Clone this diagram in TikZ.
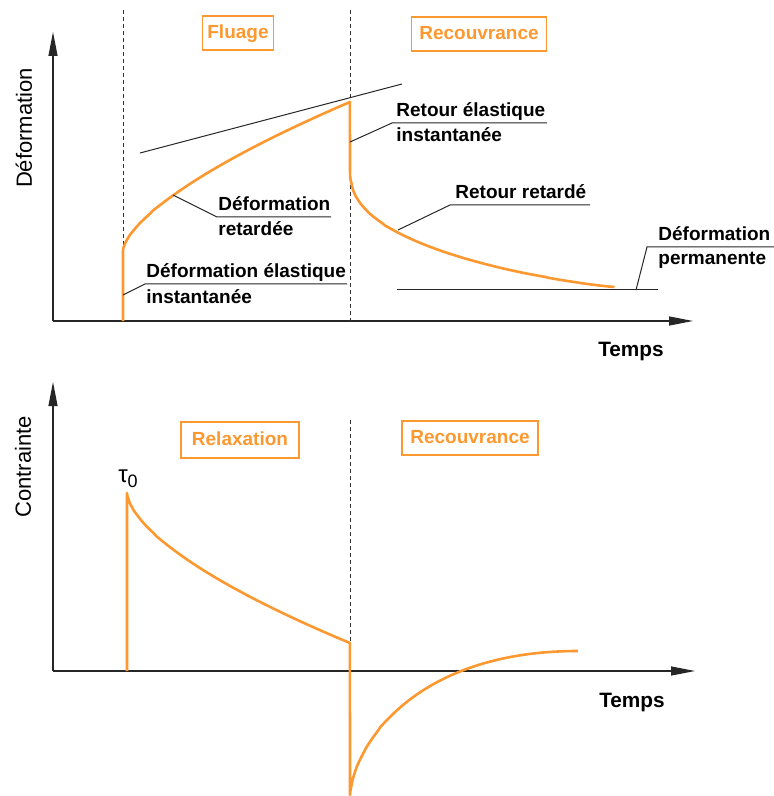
\documentclass[tikz,border=0pt]{standalone}
\usepackage{fontspec}
\setmainfont{Liberation Sans}
\usetikzlibrary{calc,arrows.meta}
\definecolor{orangeline}{RGB}{252,152,48}

\begin{document}
\begin{tikzpicture}[x=0.5pt,y=-0.5pt,
    axe/.style={black!85,line width=0.6pt,-{Triangle[length=12pt,width=4.5pt]}},
    limite/.style={black!80,line width=0.5pt,dash pattern=on 2pt off 1.5pt},
    courbe/.style={orangeline,line width=1.3pt,line join=round},
    fin/.style={black!85,line width=0.5pt},
    phase/.style={draw=orangeline,line width=0.6pt,text=orangeline,font=\bfseries\fontsize{9.5}{11}\selectfont,minimum height=17pt,inner xsep=0pt,text height=7pt,text depth=1.5pt},
    legende/.style={anchor=base west,inner sep=0pt,font=\bfseries\fontsize{9.5}{11}\selectfont},
    titre/.style={font=\fontsize{11}{13}\selectfont,rotate=90}]
				\useasboundingbox (0,0) rectangle (774,796);
				
				% fluage puis recouvrance
				\coordinate (O) at (53,321);
				\draw[axe] (O) -- (53,32);
				\draw[axe] (O) -- (693,321);
				\draw[limite] (123,10) -- (123,321);
				\draw[limite] (350,10) -- (350,321);
				\draw[fin] (140,153) -- (402,84);
				\draw[fin] (397,290) -- (658,290);
				\draw[courbe] (123,321) -- (123,250)
					-- plot[domain=0.001:1,samples=100] ({123+227*\x},{250-148*\x^0.66})
					-- (350,172)
					-- plot[domain=0.001:0.999,samples=100] ({350+265*\x},{172+115*(1-(1-\x^0.45)^1.2)});
				
				\node[phase,minimum width=35.5pt] (fluage) at (238,33) {Fluage};
				\node[phase,minimum width=67.5pt] (recouvA) at (479,34) {Recouvrance};
				\node[titre] (deform) at (24,128) {Déformation};
				\node[font=\bfseries\fontsize{10.4}{12}\selectfont] (tempsA) at (631,352) {Temps};
				
				\coordinate (A) at (173,195);
				\coordinate (B) at (217,217);
				\draw[fin] (A) -- (B) -- ++(114,0);
				\node[legende] (retA) at ($(B)+(1,-6.5)$) {Déformation};
				\node[legende] (retB) at ($(B)+(1,19)$) {retardée};
				
				\coordinate (C) at (123,295);
				\coordinate (D) at (145,284);
				\draw[fin] (C) -- (D) -- ++(202,0);
				\node[legende] (elaA) at ($(D)+(1,-6.5)$) {Déformation élastique};
				\node[legende] (elaB) at ($(D)+(1,19)$) {instantanée};
				
				\coordinate (E) at (350,142);
				\coordinate (F) at (392,123);
				\draw[fin] (E) -- (F) -- ++(155,0);
				\node[legende] (rinA) at ($(F)+(4,-6.5)$) {Retour élastique};
				\node[legende] (rinB) at ($(F)+(4,19)$) {instantanée};
				
				\coordinate (G) at (398,230);
				\coordinate (H) at (450,205);
				\draw[fin] (G) -- (H) -- ++(140,0);
				\node[legende] (rret) at ($(H)+(5,-6.5)$) {Retour retardé};
				
				\coordinate (I) at (636,290);
				\coordinate (J) at (647,247);
				\draw[fin] (I) -- (J) -- ++(127,0);
				\node[legende] (permA) at ($(J)+(11,-6.5)$) {Déformation};
				\node[legende] (permB) at ($(J)+(11,17)$) {permanente};
				
				% relaxation puis recouvrance
				\coordinate (P) at (53,671);
				\draw[axe] (P) -- (53,382);
				\draw[axe] (P) -- (695,671);
				\draw[limite] (350,420) -- (350,643);
				\draw[courbe] (127,671) -- (127,493)
					-- plot[domain=0.001:1,samples=100] ({127+223*\x},{493+150*\x^0.62})
					-- (350,795)
					-- plot[domain=0.001:1,samples=100] ({350+228*\x},{795-144*(1-(1-\x^0.65)*(1-\x^0.65))});
				
				\node[phase,minimum width=59pt,minimum height=18pt] (relax) at (240,440) {Relaxation};
				\node[phase,minimum width=68pt] (recouvB) at (470,438) {Recouvrance};
				\node[titre] (contr) at (23,467) {Contrainte};
				\node[font=\bfseries\fontsize{10.4}{12}\selectfont] (tempsB) at (632,702) {Temps};
				\node[inner sep=0pt] (tau) at (128,479) {{\fontsize{12}{14}\selectfont τ}\raisebox{-2.5pt}{\fontsize{9}{10}\selectfont 0}};
			\end{tikzpicture}
\end{document}
